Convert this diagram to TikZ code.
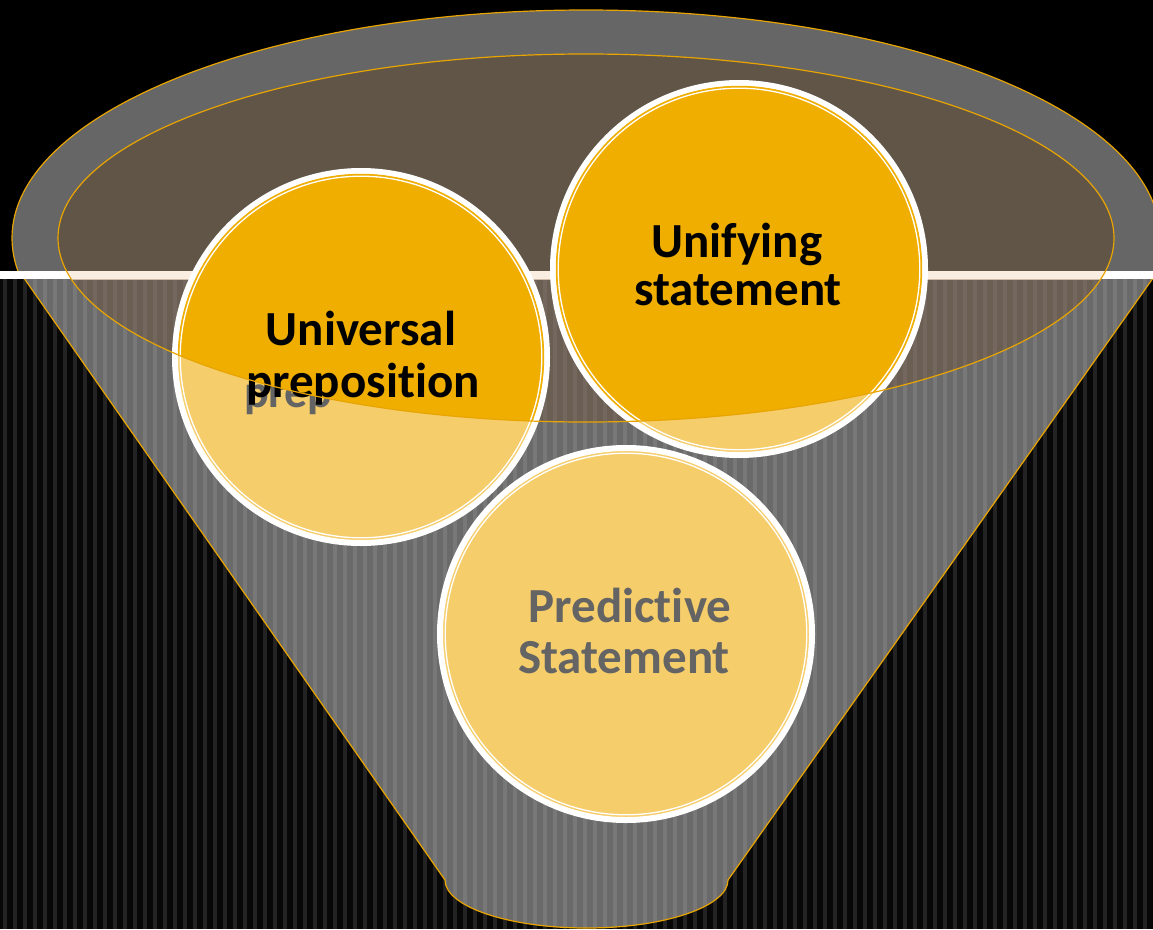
\documentclass[tikz,border=0pt]{standalone}
\usepackage{fontspec}
\setmainfont{Carlito}[Ligatures={NoCommon}]
\definecolor{bgdark}{HTML}{070707}
\definecolor{bglight}{HTML}{232323}
\definecolor{rim}{HTML}{666666}
\definecolor{innerc}{HTML}{615548}
\definecolor{peach}{HTML}{FAEEE2}
\definecolor{edgec}{HTML}{E8A400}
\definecolor{lightc}{HTML}{F5CD6A}
\definecolor{goldc}{HTML}{F0AE00}
\definecolor{txtgray}{HTML}{646464}
\definecolor{bodyc}{HTML}{CDCDCD}
\definecolor{brownov}{RGB}{110,70,36}
\tikzset{
  ring/.style={circle, minimum size=372pt, inner sep=0pt, fill=lightc, draw=white, line width=6pt},
  lbl/.style={font=\fontsize{49}{52}\selectfont\bfseries, inner sep=0pt, anchor=base},
  outline/.style={draw=edgec, line width=1.2pt},
  thinring/.style={draw=white, line width=1.3pt}
}
\begin{document}
\begin{tikzpicture}[x=1pt,y=-1pt]
\useasboundingbox (0,0) rectangle (1153,929);
% background
\fill[black] (0,0) rectangle (1153,929);
\fill[bgdark] (0,279) rectangle (1153,929);
\foreach \i in {0,...,115} \fill[bglight] (\i*10+3,279) rectangle (\i*10+7,929);
% funnel body
\coordinate (bl) at (19,271);
\coordinate (br) at (1158,271);
\coordinate (fl) at (445,880);
\coordinate (fr) at (728,880);
\fill[bodyc, fill opacity=0.5] (bl) -- (fl) arc[start angle=180, end angle=360, x radius=141.5pt, y radius=48pt] -- (br) -- cycle;
\draw[outline] (bl) -- (fl) arc[start angle=180, end angle=360, x radius=141.5pt, y radius=48pt] -- (br);
% outer rim
\coordinate (ec) at (586,238);
\begin{scope}
\clip (-20,-20) rectangle (1180,271);
\fill[rim] (ec) ellipse [x radius=574pt, y radius=228pt];
\draw[outline] (ec) ellipse [x radius=574pt, y radius=228pt];
\end{scope}
% white band
\fill[white] (0,271) rectangle (1153,279);
% inner ellipse
\begin{scope}
\clip (0,0) rectangle (1153,271);
\fill[innerc] (ec) ellipse [x radius=528pt, y radius=184pt];
\end{scope}
\begin{scope}
\clip (0,271) rectangle (1153,279);
\fill[peach] (ec) ellipse [x radius=528pt, y radius=184pt];
\end{scope}
\begin{scope}
\clip (0,279) rectangle (1153,929);
\fill[brownov, fill opacity=0.3] (ec) ellipse [x radius=528pt, y radius=184pt];
\end{scope}
% circles
\node[ring] (cu) at (361,357) {};
\node[ring] (cs) at (739,269) {};
\node[ring] (cp) at (626,634) {};
\foreach \c in {cu,cs,cp} \draw[thinring] (\c.center) circle[radius=180.8pt];
% shadow text under the front layer
\node[lbl, anchor=base west, text=txtgray, font=\fontsize{46}{48}\selectfont\bfseries] (u0) at (244,407) {prep};
% front part inside the inner ellipse
\begin{scope}
\clip (ec) ellipse [x radius=528pt, y radius=184pt];
\foreach \c in {cu,cs,cp} {
  \fill[goldc] (\c.center) circle[radius=183.2pt];
  \draw[thinring] (\c.center) circle[radius=180.8pt];
}
\end{scope}
% texts
\node[lbl] (u1) at (361,345) {Universal};
\node[lbl] (u2) at (363,397) {preposit\kern0pt ion};
\node[lbl] (s1) at (737,257) {Unifying};
\node[lbl] (s2) at (738,305) {statement};
\node[lbl, text=txtgray] (p1) at (630,622) {Predict\kern0pt ive};
\node[lbl, text=txtgray] (p2) at (624,673) {Statement};
% inner ellipse edge on top
\draw[outline] (ec) ellipse [x radius=528pt, y radius=184pt];
\end{tikzpicture}
\end{document}
